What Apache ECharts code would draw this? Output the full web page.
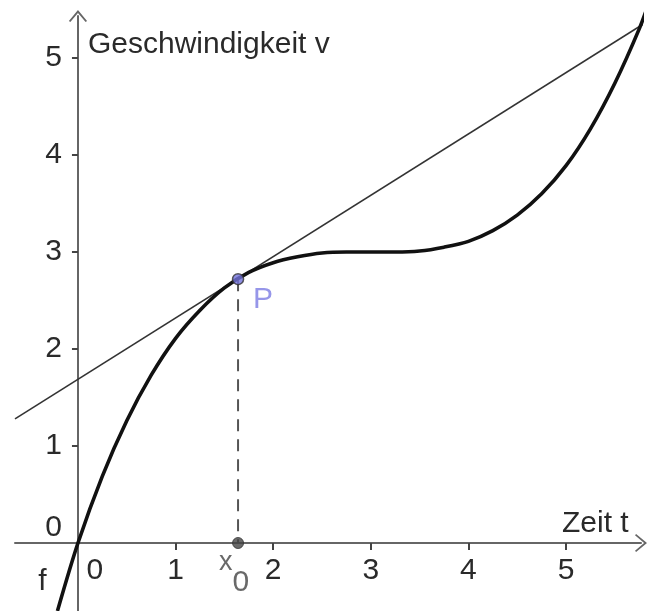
<!DOCTYPE html>
<html>
<head>
<meta charset="utf-8">
<script src="https://cdn.jsdelivr.net/npm/echarts@6/dist/echarts.min.js"></script>
<style>
  html, body { margin: 0; padding: 0; background: #fff; }
  #chart { width: 650px; height: 611px; }
</style>
</head>
<body>
<div id="chart"></div>
<script>
// Kurve f (Zeit t -> Geschwindigkeit v)
const curveT = [-0.21, 0, 0.25, 0.5, 0.75, 1, 1.25, 1.5, 1.75, 2, 2.25, 2.5, 2.75, 3,
  3.25, 3.5, 3.75, 4, 4.25, 4.5, 4.75, 5, 5.25, 5.5, 5.75, 5.86];
const curveV = [-0.70, 0, 0.69, 1.26, 1.73, 2.11, 2.40, 2.63, 2.79, 2.89, 2.95, 2.99, 3.00, 3.00,
  3.00, 3.01, 3.05, 3.11, 3.22, 3.38, 3.60, 3.89, 4.27, 4.74, 5.30, 5.60];
// Tangente in P
const tangentT = [-0.645, 5.87];
const tangentV = [1.28, 5.40];
// Punkt P und x0
const pointP = [1.64, 2.72];
const xTicks = [1, 2, 3, 4, 5];
const xLabels = [0, 1, 2, 3, 4, 5];
const yTicks = [1, 2, 3, 4, 5];
const yLabels = [0, 1, 2, 3, 4, 5];

const W = 650, H = 611;
const G = { left: 15, right: 9, top: 16, bottom: 0 };
const X_MIN = -0.645, X_MAX = 5.768, Y_MIN = -0.701, Y_MAX = 5.433;
// Achsen durch den Ursprung legen (offset statt onZero)
const xOff = -(0 - Y_MIN) / (Y_MAX - Y_MIN) * (H - G.top - G.bottom);
const yOff = -(0 - X_MIN) / (X_MAX - X_MIN) * (W - G.left - G.right);

const FONT = 'Liberation Sans';
const FS = 30;
const TXT = '#2a2a2a';
const AXIS = '#666';
const arrow = 'path://M0,12 L10,0 L20,12 L18.4,13.2 L10,3.2 L1.6,13.2 Z';

const chart = echarts.init(document.getElementById('chart'));
chart.setOption({
  animation: false,
  grid: Object.assign({ containLabel: false, outerBoundsMode: 'none' }, G),
  xAxis: {
    type: 'value', min: X_MIN, max: X_MAX, position: 'bottom', offset: xOff,
    splitLine: { show: false },
    axisLine: { onZero: false, symbol: ['none', arrow], symbolSize: [20, 12],
      lineStyle: { color: AXIS, width: 2 } },
    axisTick: { customValues: xTicks, length: 7, lineStyle: { color: '#444', width: 2 } },
    axisLabel: {
      customValues: xLabels, margin: 13, color: TXT, fontFamily: FONT, fontSize: FS,
      formatter: v => v === 0 ? '{z|0}' : String(v),
      rich: { z: { padding: [0, 0, 0, 34], color: TXT, fontFamily: FONT, fontSize: FS } },
    },
    name: 'Zeit t', nameLocation: 'end', nameGap: -79,
    nameTextStyle: { color: TXT, fontFamily: FONT, fontSize: FS, align: 'left',
      verticalAlign: 'bottom', padding: [0, 0, 4, 0] },
  },
  yAxis: {
    type: 'value', min: Y_MIN, max: Y_MAX, position: 'left', offset: yOff,
    splitLine: { show: false },
    axisLine: { onZero: false, symbol: ['none', arrow], symbolSize: [20, 12],
      lineStyle: { color: AXIS, width: 2 } },
    axisTick: { customValues: yTicks, length: 6, lineStyle: { color: '#444', width: 2 } },
    axisLabel: {
      customValues: yLabels, margin: 16, color: TXT, fontFamily: FONT, fontSize: FS,
      formatter: v => v === 0 ? '{z|0}' : String(v),
      rich: { z: { padding: [0, 0, 30, 0], color: TXT, fontFamily: FONT, fontSize: FS } },
    },
    name: 'Geschwindigkeit v', nameLocation: 'end', nameGap: -29,
    nameTextStyle: { color: TXT, fontFamily: FONT, fontSize: FS, align: 'left',
      verticalAlign: 'middle', padding: [0, 0, 0, 10] },
  },
  series: [
    {
      type: 'line', name: 'Tangente', clip: false, symbol: 'none', z: 2,
      data: tangentT.map((t, i) => [t, tangentV[i]]),
      lineStyle: { color: '#333', width: 1.6 },
    },
    {
      type: 'line', name: 'f', clip: false, symbol: 'none', smooth: 0.3, z: 3,
      data: curveT.map((t, i) => [t, curveV[i]]),
      lineStyle: { color: '#111', width: 3.6 },
      markPoint: {
        symbol: 'circle', symbolSize: 0,
        data: [{ coord: [curveT[0], curveV[0]], label: { show: true, formatter: 'f',
          position: 'inside', offset: [-15, -29], color: TXT, fontFamily: FONT, fontSize: FS } }],
      },
    },
    {
      type: 'line', name: 'Lot', clip: false, symbol: 'none', z: 2,
      data: [[pointP[0], pointP[1]], [pointP[0], 0]],
      lineStyle: { color: '#555', width: 2, type: [12, 8] },
    },
    {
      type: 'scatter', name: 'x0', z: 4, symbol: 'circle', symbolSize: 11,
      data: [[pointP[0], 0]],
      itemStyle: { color: '#444', borderColor: '#333', borderWidth: 1 },
      label: { show: true, position: 'inside', offset: [-4, 20],
        formatter: '{a|x}{b|0}',
        rich: {
          a: { color: '#444', fontFamily: FONT, fontSize: 27 },
          b: { color: '#444', fontFamily: FONT, fontSize: FS, padding: [40, 0, 0, 0] },
        } },
    },
    {
      type: 'scatter', name: 'P', z: 5, symbol: 'circle', symbolSize: 11,
      data: [pointP],
      itemStyle: { color: '#7373dc', borderColor: '#333', borderWidth: 1.5 },
      label: { show: true, formatter: 'P', position: 'inside', offset: [25, 21],
        color: '#7c7ce3', fontFamily: FONT, fontSize: FS },
    },
  ],
});
</script>
</body>
</html>
